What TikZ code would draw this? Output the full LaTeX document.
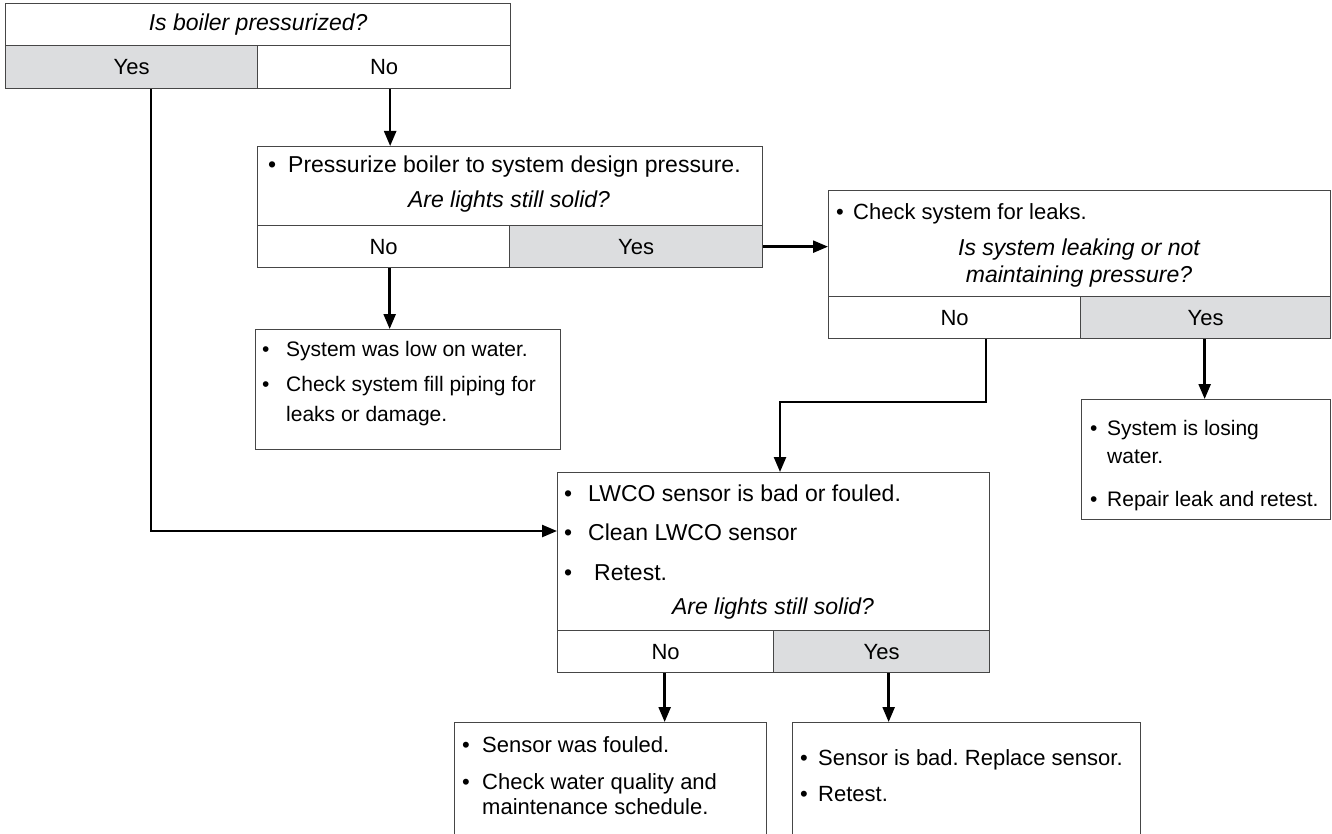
\documentclass[tikz,border=0pt]{standalone}
\usepackage{fontspec}
\setmainfont{Liberation Sans}
\usetikzlibrary{arrows.meta}
\definecolor{cellgray}{RGB}{220,221,223}
\definecolor{boxline}{RGB}{70,70,70}
\frenchspacing
\begin{document}
\begin{tikzpicture}[x=1pt,y=-1pt,
  cell/.style={draw=boxline,line width=1.3pt,fill=white,inner sep=0pt,anchor=north west,font=\fontsize{22}{26}\selectfont},
  gcell/.style={cell,fill=cellgray},
  qtext/.style={font=\fontsize{23}{28}\selectfont\itshape,align=center,inner sep=0pt},
  bul/.style={anchor=base west,inner sep=0pt,font=\fontsize{21}{25}\selectfont},
  btext/.style={anchor=base west,inner sep=0pt,font=\fontsize{21}{25}\selectfont},
  bigbul/.style={bul,font=\fontsize{23}{28}\selectfont},
  bigtext/.style={btext,font=\fontsize{23}{28}\selectfont},
  midbul/.style={bul,font=\fontsize{22}{26}\selectfont},
  midtext/.style={btext,font=\fontsize{22}{26}\selectfont},
  conn/.style={line width=2.4pt,-{Triangle[length=15pt,width=12pt]}}]
\useasboundingbox (0,0) rectangle (1332,834);
\clip (0,0) rectangle (1332,834);

% --- Top decision
\node[cell,minimum width=505pt,minimum height=42pt] (q1) at (5,3) {};
\node[qtext] (q1t) at (q1.center) {Is boiler pressurized?};
\node[gcell,minimum width=252pt,minimum height=43pt] (q1yes) at (5,45) {Yes};
\node[cell,minimum width=253pt,minimum height=43pt] (q1no) at (257,45) {No};

% --- Pressurize box
\node[cell,minimum width=505pt,minimum height=79pt] (p) at (257,146) {};
\node[bigbul] (pb) at (268,173) {•};
\node[bigtext] (pt) at (288,173) {Pressurize boiler to system design pressure.};
\node[qtext] (pq) at (509,202) {Are lights still solid?};
\node[cell,minimum width=252pt,minimum height=42pt] (pno) at (257,225) {No};
\node[gcell,minimum width=253pt,minimum height=42pt] (pyes) at (509,225) {Yes};

% --- Leak box
\node[cell,minimum width=502pt,minimum height=106pt] (l) at (828,190) {};
\node[midbul] (lb) at (836,220) {•};
\node[midtext] (lt) at (853,220) {Check system for leaks.};
\node[qtext,font=\fontsize{23}{27}\selectfont\itshape] (lq) at (1079,263) {Is system leaking or not\\maintaining pressure?};
\node[cell,minimum width=252pt,minimum height=42pt] (lno) at (828,296) {No};
\node[gcell,minimum width=250pt,minimum height=42pt] (lyes) at (1080,296) {Yes};

% --- Low water box
\node[cell,minimum width=305pt,minimum height=120pt] (low) at (255,329) {};
\node[bul] (lowb1) at (262,356) {•};
\node[btext] (lowt1) at (286,356) {System was low on water.};
\node[bul] (lowb2) at (262,391) {•};
\node[btext] (lowt2) at (286,391) {Check system fill piping for};
\node[btext] (lowt3) at (286,421) {leaks or damage.};

% --- Losing water box
\node[cell,minimum width=249pt,minimum height=120pt] (lose) at (1081,399) {};
\node[bul] (loseb1) at (1090,435) {•};
\node[btext] (loset1) at (1107,435) {System is losing};
\node[btext] (loset1b) at (1107,463) {water.};
\node[bul] (loseb2) at (1090,506) {•};
\node[btext] (loset2) at (1107,506) {Repair leak and retest.};

% --- LWCO box
\node[cell,minimum width=432pt,minimum height=158pt] (w) at (557,472) {};
\node[bigbul] (wb1) at (564,501) {•};
\node[bigtext] (wt1) at (588,501) {LWCO sensor is bad or fouled.};
\node[bigbul] (wb2) at (564,540) {•};
\node[bigtext] (wt2) at (588,540) {Clean LWCO sensor};
\node[bigbul] (wb3) at (564,580) {•};
\node[bigtext] (wt3) at (594,580) {Retest.};
\node[qtext] (wq) at (773,609) {Are lights still solid?};
\node[cell,minimum width=216pt,minimum height=42pt] (wno) at (557,630) {No};
\node[gcell,minimum width=216pt,minimum height=42pt] (wyes) at (773,630) {Yes};

% --- Bottom boxes
\node[cell,minimum width=312pt,minimum height=140pt] (foul) at (454,722) {};
\node[midbul] (foulb1) at (462,752) {•};
\node[midtext] (foult1) at (482,752) {Sensor was fouled.};
\node[midbul] (foulb2) at (462,789) {•};
\node[midtext] (foult2) at (482,789) {Check water quality and};
\node[midtext] (foult3) at (482,814) {maintenance schedule.};

\node[cell,minimum width=348pt,minimum height=140pt] (bad) at (792,722) {};
\node[midbul] (badb1) at (800,765) {•};
\node[midtext] (badt1) at (818,765) {Sensor is bad. Replace sensor.};
\node[midbul] (badb2) at (800,801) {•};
\node[midtext] (badt2) at (818,801) {Retest.};

% --- Connectors
\coordinate (yesturn) at (151,531);
\draw[conn] (q1yes.south -| yesturn) -- (yesturn) -- (yesturn -| w.west);
\draw[conn] ([xshift=6pt]q1no.south) -- ([xshift=6pt]q1no.south |- p.north);
\draw[conn] ([xshift=6pt]pno.south) -- ([xshift=6pt]pno.south |- low.north);
\draw[conn] (pyes.east) -- (pyes.east -| l.west);
\coordinate (lnobend) at (986,402);
\coordinate (lnoleft) at (780,402);
\draw[conn] (lno.south -| lnobend) -- (lnobend) -- (lnoleft) -- (w.north -| lnoleft);
\draw[conn] ([xshift=-1pt]lyes.south) -- ([xshift=-1pt]lyes.south |- lose.north);
\draw[conn] ([xshift=-1pt]wno.south) -- ([xshift=-1pt]wno.south |- foul.north);
\draw[conn] ([xshift=7pt]wyes.south) -- ([xshift=7pt]wyes.south |- bad.north);
\end{tikzpicture}
\end{document}
